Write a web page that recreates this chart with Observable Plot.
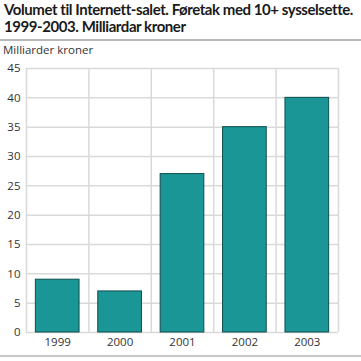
<!DOCTYPE html>
<html><head><meta charset="utf-8">
<script src="https://cdn.jsdelivr.net/npm/d3@7"></script>
<script src="https://cdn.jsdelivr.net/npm/@observablehq/plot@0.6"></script>
<style>
body{margin:0;background:#fff;font-family:"Open Sans",sans-serif;}
#wrap{position:relative;width:361px;height:361px;overflow:hidden;}
#title{position:absolute;left:4px;top:1px;font-family:Lato,"Open Sans",sans-serif;font-size:15px;font-weight:bold;line-height:17px;color:#1a1a1a;white-space:nowrap;}
#title span{display:inline-block;}
#sep{position:absolute;left:0;top:39px;width:361px;height:0;border-top:2px solid #b8b8b8;}
#ylab{position:absolute;left:3px;top:42px;font-size:11.5px;color:#333;}
#chart{position:absolute;left:0;top:42px;}
#bot{position:absolute;left:0;top:355px;width:361px;height:0;border-top:2px solid #c8c8c8;}
</style></head>
<body><div id="wrap">
<div id="title"><span id="t1">Volumet til Internett-salet. Føretak med 10+ sysselsette.</span><br><span id="t2">1999-2003. Milliardar kroner</span></div>
<div id="sep"></div>
<div id="ylab">Milliarder kroner</div>
<div id="chart"></div>
<div id="bot"></div>
</div>
<script>
const years = [1999, 2000, 2001, 2002, 2003];
const values = [9, 7, 27, 35, 40];
const yTicks = [0, 5, 10, 15, 20, 25, 30, 35, 40, 45];

// fit title line width to reference span
const t1 = document.getElementById("t1"), t2 = document.getElementById("t2");
const target = 348;
const w = t1.getBoundingClientRect().width;
const ls = (target - w) / t1.textContent.length;
t1.style.letterSpacing = ls + "px";
t2.style.letterSpacing = ls + "px";

const data = years.map((y, i) => ({year: y, value: values[i]}));
const bounds = years.map(y => y - 0.5).concat([years[years.length - 1] + 0.5]);
const half = 0.35;

const chart = Plot.plot({
  width: 361,
  height: 313,
  marginTop: 26,
  marginBottom: 23,
  marginLeft: 26,
  marginRight: 23,
  style: {fontFamily: "'Open Sans', sans-serif", fontSize: "11.5px", color: "#333", background: "transparent"},
  x: {domain: [bounds[0], bounds[bounds.length - 1]], ticks: years, tickFormat: d => String(d), tickSize: 0, tickPadding: 5, label: null},
  y: {domain: [0, 45], ticks: yTicks, tickSize: 0, tickPadding: 6, label: null},
  marks: [
    Plot.ruleY(yTicks, {stroke: "#d9d9d9", strokeWidth: 1.5}),
    Plot.ruleX(bounds, {stroke: "#d9d9d9", strokeWidth: 1.5}),
    Plot.rectY(data, {x1: d => d.year - half, x2: d => d.year + half, y: "value", fill: "#1b9696", stroke: "#0e4d4d", strokeWidth: 1})
  ]
});
document.getElementById("chart").appendChild(chart);
</script>
</body></html>
